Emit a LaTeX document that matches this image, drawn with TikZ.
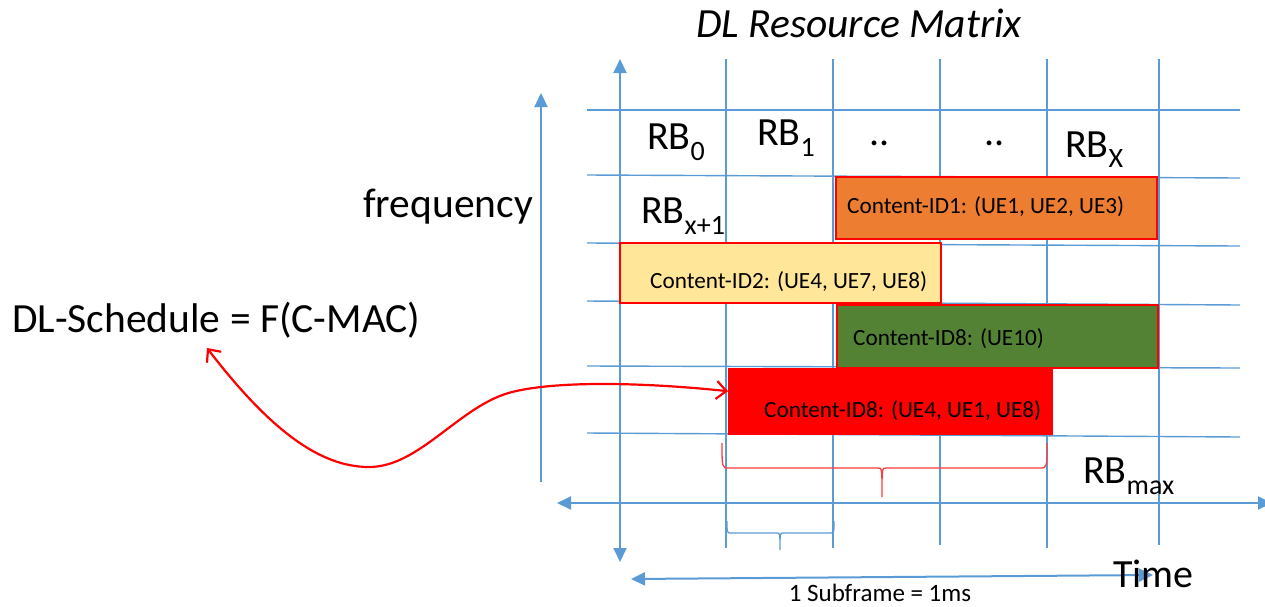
\documentclass[tikz,border=0pt]{standalone}
\usepackage{fontspec}
\setmainfont{Carlito}
\usetikzlibrary{arrows.meta}
\definecolor{lblue}{HTML}{5B9BD5}
\definecolor{corange}{HTML}{ED7D31}
\definecolor{cyellow}{HTML}{FFE699}
\definecolor{cgreen}{HTML}{548235}
\definecolor{cred}{HTML}{FF0000}
\definecolor{bred}{HTML}{FF3B3B}
\newcommand\rbsub[2][11pt]{\raisebox{-#1}{\fontsize{28}{28}\selectfont #2}}
\tikzset{
  gridline/.style={draw=lblue, line width=1.4pt},
  axisline/.style={draw=lblue, line width=2pt},
  tri/.style={-{Triangle[width=13pt,length=14pt]}},
  ditri/.style={{Triangle[width=13pt,length=14pt]}-{Triangle[width=13pt,length=14pt]}},
  cbox/.style={draw=cred, line width=2.4pt, anchor=north west, inner sep=0pt},
  ctext/.style={anchor=base west, inner sep=0pt, font=\fontsize{23.2}{28}\selectfont},
  big/.style={inner sep=0pt, font=\fontsize{41.5}{50}\selectfont},
  rb/.style={anchor=base west, inner sep=0pt, font=\fontsize{40}{48}\selectfont},
  bracered/.style={draw=bred, line width=1.3pt},
  braceblue/.style={draw=lblue, line width=1.3pt},
  curve/.style={draw=cred, line width=2.2pt, {Straight Barb[length=10pt,width=18pt]}-{Straight Barb[length=10pt,width=18pt]}}
}
\begin{document}
\begin{tikzpicture}[x=1pt,y=-1pt]
\useasboundingbox (0,0) rectangle (1265,606);
% horizontal grid lines
\draw[gridline, line width=2.8pt] (587,110) -- (1240,110);
\draw[gridline] (587,175) -- (1240,178);
\draw[gridline] (587,243) -- (1240,246);
\draw[gridline] (587,301) -- (1240,305);
\draw[gridline] (587,366) -- (1240,368);
\draw[gridline] (587,433) -- (1240,437);
% vertical grid lines
\draw[gridline] (726,59) -- (726,548);
\draw[gridline] (833,59) -- (833,548);
\draw[gridline] (940,59) -- (940,545);
\draw[gridline] (1047,59) -- (1047,548);
\draw[gridline] (1159,59) -- (1159,545);
% axes
\draw[axisline, ditri] (620,562) -- (620,59);
\draw[axisline, tri] (541,482) -- (541,93);
\draw[axisline, ditri] (557,503) -- (1272,503);
\draw[axisline, ditri] (631,579) -- (1153,575);
% boxes
\node[cbox, fill=corange, minimum width=321pt, minimum height=62pt] (c1) at (835,176) {};
\node[cbox, fill=cyellow, minimum width=321pt, minimum height=60pt] (c2) at (619,242) {};
\node[cbox, fill=cgreen, minimum width=321pt, minimum height=63pt] (c3) at (836,304) {};
\node[cbox, fill=cred, minimum width=323pt, minimum height=65pt] (c4) at (728,368) {};
\node[ctext] (t1) at (847,213) {Content-ID1: (UE1, UE2, UE3)};
\node[ctext] (t2) at (650,288) {Content-ID2: (UE4, UE7, UE8)};
\node[ctext] (t3) at (853,345) {Content-ID8: (UE10)};
\node[ctext] (t4) at (764,417) {Content-ID8: (UE4, UE1, UE8)};
% RB labels
\node[rb] (rb0) at (647,149) {RB\rbsub{0}};
\node[rb] (rb1) at (757,145) {RB\rbsub{1}};
\node[rb, anchor=base] (d1) at (880,145) {..};
\node[rb, anchor=base] (d2) at (995,145) {..};
\node[rb] (rbx) at (1065,157) {RB\rbsub[10pt]{X}};
\node[rb] (rbx1) at (641,223) {RB\rbsub{x+1}};
\node[rb] (rbmax) at (1083,483) {RB\rbsub{max}};
\node[rb] (time) at (1113,587) {Time};
% other labels
\node[big, anchor=base, font=\fontsize{41.5}{50}\selectfont\itshape] (title) at (859,37) {DL Resource Matrix};
\node[big, anchor=base west] (freq) at (363,217) {frequency};
\node[big, anchor=base west] (dls) at (12,332) {DL-Schedule = F(C-MAC)};
\node[anchor=base, inner sep=0pt, font=\fontsize{25}{30}\selectfont] (sub) at (880,601) {1 Subframe = 1ms};
% braces
\draw[bracered] (722,443) .. controls (722,468) .. (729,468) -- (878,468)
  .. controls (882,468) .. (882,497) .. controls (882,468) .. (886,468)
  -- (1040,468) .. controls (1047,468) .. (1047,443);
\draw[braceblue] (727,521) .. controls (727,533) .. (731,533) -- (777,533)
  .. controls (780,533) .. (780,550) .. controls (780,533) .. (783,533)
  -- (830,533) .. controls (834,533) .. (834,521);
% curved connector
\coordinate (dlstip) at (207,348);
\draw[curve] (dlstip) .. controls (270,430) and (320,467) .. (369,467)
  .. controls (420,467) and (460,405) .. (512,392)
  .. controls (560,380) and (650,383) .. ([yshift=10.5pt]c4.west);
\end{tikzpicture}
\end{document}
